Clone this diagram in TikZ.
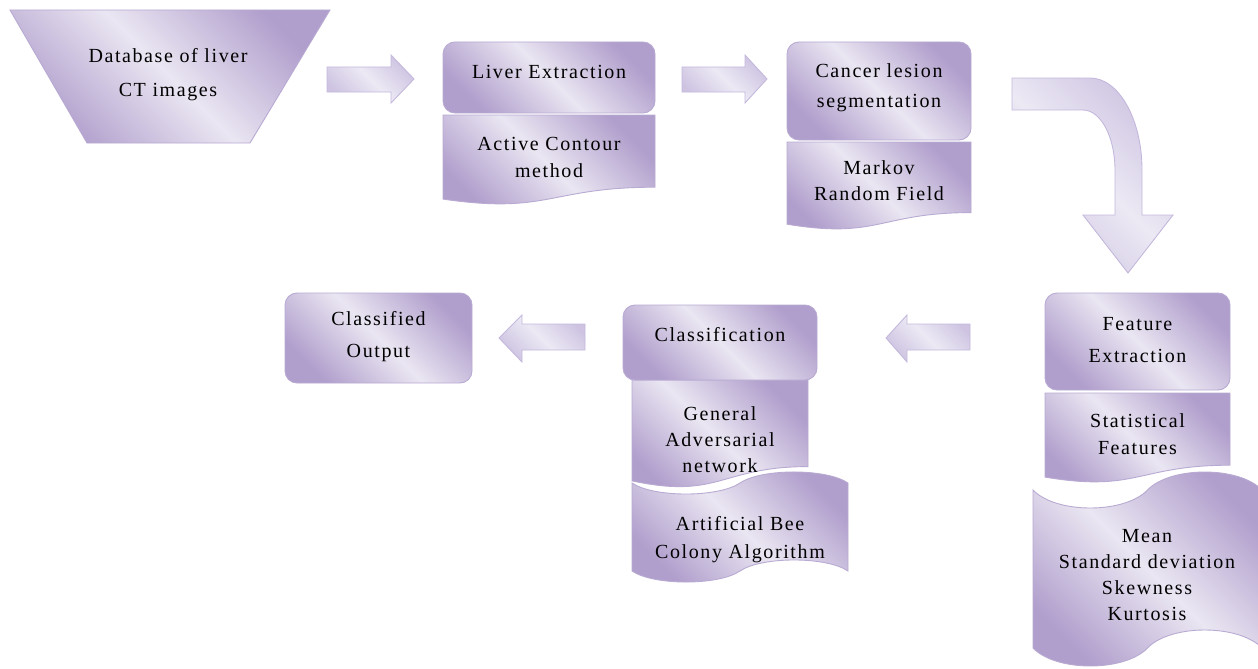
\documentclass[tikz,border=0pt]{standalone}
\usepackage{fontspec}
\setmainfont{Liberation Serif}[LetterSpace=8]
\definecolor{lavD}{RGB}{176,158,204}
\definecolor{lavL}{RGB}{234,230,242}
\definecolor{lavB}{RGB}{184,170,210}
\definecolor{arrD}{RGB}{206,196,226}
\definecolor{arrL}{RGB}{236,233,244}
\definecolor{arrB}{RGB}{196,184,220}
\tikzset{
  shapebox/.style={draw=lavB, line width=0.9pt, left color=lavD, right color=lavD, middle color=lavL, shading angle=-45},
  blockarrow/.style={draw=arrB, line width=0.9pt, left color=arrD, right color=arrD, middle color=arrL, shading angle=-45},
  txt/.style={align=center, text=black, inner sep=0pt, font=\fontsize{20}{27}\selectfont},
}
\begin{document}
\begin{tikzpicture}[x=1pt,y=-1pt]
\useasboundingbox (0,0) rectangle (1258,669);

% Database trapezoid
\path[shapebox] (10,10) -- (330,10) -- (250,143) -- (87,143) -- cycle;
\node[txt, font=\fontsize{20}{34}\selectfont] (db) at (168,75) {Database of liver\\CT images};

% arrow 1
\path[blockarrow] (327,67) -- (391,67) -- (391,55) -- (414,79) -- (391,103) -- (391,92) -- (327,92) -- cycle;

% Liver extraction + active contour
\path[shapebox] (443,115) -- (655,115) -- (655,187.2) .. controls (549,187.2) and (549,214.6) .. (443,199.1) -- cycle;
\path[shapebox, rounded corners=12pt] (443,42) rectangle (655,113);
\node[txt] (liver) at (549,72) {Liver Extraction};
\node[txt] (active) at (549,157) {Active Contour\\method};

% arrow 2
\path[blockarrow] (682,67) -- (745,67) -- (745,55) -- (767,79) -- (745,103) -- (745,92) -- (682,92) -- cycle;

% Cancer lesion + Markov
\path[shapebox] (787,142) -- (971,142) -- (971,212.6) .. controls (879,212.6) and (879,239.4) .. (787,224.2) -- cycle;
\path[shapebox, rounded corners=12pt] (787,42) rectangle (971,140);
\node[txt, font=\fontsize{20}{30}\selectfont] (cancer) at (879,88) {Cancer lesion\\segmentation};
\node[txt, font=\fontsize{20}{26}\selectfont] (markov) at (879,181) {Markov\\Random Field};

% curved arrow
\path[blockarrow] (1012,78) -- (1090,78) .. controls (1118.7,78) and (1142,119.2) .. (1142,170)
  -- (1142,215) -- (1173,215) -- (1128,273) -- (1083,215) -- (1115,215) -- (1115,170)
  .. controls (1115,136.9) and (1100.7,110) .. (1083,110) -- (1012,110) -- cycle;

% Feature extraction + statistical + mean
\path[shapebox] (1045,393) -- (1230,393) -- (1230,465.2) .. controls (1137.5,465.2) and (1137.5,492.6) .. (1045,477.1) -- cycle;
\path[shapebox, rounded corners=12pt] (1045,293) rectangle (1230,390);
\path[shapebox] (1033,490) .. controls (1055.9,514) and (1124.6,514) .. (1147.5,490)
  .. controls (1170.4,466) and (1239.1,466) .. (1262,490) -- (1262,648)
  .. controls (1239.1,624) and (1170.4,624) .. (1147.5,648)
  .. controls (1124.6,672) and (1055.9,672) .. (1033,648) -- cycle;
\node[txt, font=\fontsize{20}{32}\selectfont] (feature) at (1137.5,340) {Feature\\Extraction};
\node[txt] (stat) at (1137.5,434) {Statistical\\Features};
\node[txt, font=\fontsize{20}{26}\selectfont] (mean) at (1147,575) {Mean\\Standard deviation\\Skewness\\Kurtosis};

% arrow 3
\path[blockarrow] (970,324) -- (907,324) -- (907,315) -- (886,338) -- (907,362) -- (907,350) -- (970,350) -- cycle;

% Classification + GAN + ABC
\path[shapebox] (632,380) -- (808,380) -- (808,466.6) .. controls (720,466.6) and (720,499.6) .. (632,480.9) -- cycle;
\path[shapebox, rounded corners=12pt] (623,305) rectangle (817,380);
\path[shapebox] (632,483) .. controls (653.6,497.7) and (718.4,497.7) .. (740,483)
  .. controls (761.6,468.3) and (826.4,468.3) .. (848,483) -- (848,571)
  .. controls (826.4,556.3) and (761.6,556.3) .. (740,571)
  .. controls (718.4,585.7) and (653.6,585.7) .. (632,571) -- cycle;
\node[txt] (classif) at (720,335) {Classification};
\node[txt, font=\fontsize{20}{26}\selectfont] (gan) at (720,440) {General\\Adversarial\\network};
\node[txt, font=\fontsize{20}{28}\selectfont] (abc) at (740,540) {Artificial Bee\\Colony Algorithm};

% arrow 4
\path[blockarrow] (585,324) -- (522,324) -- (522,315) -- (499,338) -- (522,362) -- (522,350) -- (585,350) -- cycle;

% Classified output
\path[shapebox, rounded corners=12pt] (285,293) rectangle (472,383);
\node[txt, font=\fontsize{20}{32}\selectfont] (output) at (378.5,337) {Classified\\Output};
\end{tikzpicture}
\end{document}
